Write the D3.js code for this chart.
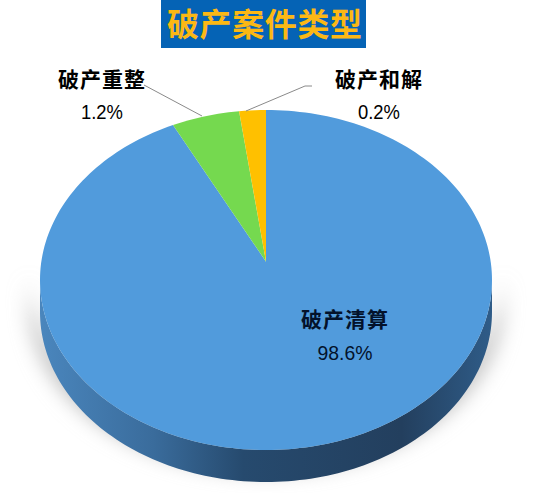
<!DOCTYPE html>
<html>
<head>
<meta charset="utf-8">
<script src="https://cdn.jsdelivr.net/npm/d3@7"></script>
<style>
    html, body { margin: 0; padding: 0; background: #fff; }
    text { font-family: "Liberation Sans", "Noto Sans CJK SC", sans-serif; }
</style>
</head>
<body>
<div id="chart"></div>
<script>
var titleText = "破产案件类型";
var categories = ["破产清算", "破产重整", "破产和解"];
var percentLabels = ["98.6%", "1.2%", "0.2%"];
// share of the circle each slice takes in the picture (the drawn slices are
// bigger than the printed percentages)
var drawnShares = [93.25, 4.85, 1.9];
var sliceColors = ["#519bdc", "#75d94f", "#ffc000"];

var width = 533, height = 493;
var svg = d3.select("#chart").append("svg")
    .attr("width", width)
    .attr("height", height)
    .style("display", "block");

var defs = svg.append("defs");

var sideGrad = defs.append("linearGradient").attr("id", "sideGrad");
sideGrad.append("stop").attr("offset", "0%").attr("stop-color", "#4a86bd");
sideGrad.append("stop").attr("offset", "25%").attr("stop-color", "#3a6c9c");
sideGrad.append("stop").attr("offset", "45%").attr("stop-color", "#264a6e");
sideGrad.append("stop").attr("offset", "80%").attr("stop-color", "#233f5e");
sideGrad.append("stop").attr("offset", "100%").attr("stop-color", "#2f5c88");

defs.append("filter").attr("id", "blur")
    .attr("x", "-20%").attr("y", "-20%").attr("width", "140%").attr("height", "140%")
    .append("feGaussianBlur").attr("stdDeviation", 9);

// unit circle -> tilted ellipse on the page
var px = d3.scaleLinear().domain([-1, 1]).range([40, 492]);
var py = d3.scaleLinear().domain([-1, 1]).range([110, 450]);
var depth = 32;
var apex = [px(0), py(-0.108)];

var pie = d3.pie().sort(null).value(function(d) { return d; });
var slices = pie(drawnShares);

function rim(a0, a1, dy) {
    var n = Math.max(2, Math.ceil(Math.abs(a1 - a0) * 40));
    return d3.range(n + 1).map(function(i) {
        var a = a0 + (a1 - a0) * i / n;
        return [px(Math.sin(a)), py(-Math.cos(a)) + (dy || 0)];
    });
}
var line = d3.line();

// shadow under the pie, only shows below the middle
svg.append("path")
    .attr("d", line(rim(Math.PI * 0.5, Math.PI * 1.5, 24).concat(rim(Math.PI * 1.5, Math.PI * 0.5, -10))) + "Z")
    .attr("transform", "translate(266,0) scale(1.05,1) translate(-266,0)")
    .attr("fill", "#c4c4c4")
    .attr("filter", "url(#blur)");

// side wall
var sideWall = rim(Math.PI * 0.5, Math.PI * 1.5, 0)
    .concat(rim(Math.PI * 1.5, Math.PI * 0.5, depth));
svg.append("path")
    .attr("d", line(sideWall) + "Z")
    .attr("fill", "url(#sideGrad)");

// top face
svg.selectAll("path.slice")
    .data(slices)
    .enter().append("path")
    .attr("class", "slice")
    .attr("fill", function(d, i) { return sliceColors[i]; })
    .attr("d", function(d) {
        return line([apex].concat(rim(d.startAngle, d.endAngle))) + "Z";
    });

// title
var titleX = d3.scalePoint().domain(d3.range(titleText.length)).range([183, 346]);
svg.append("rect")
    .attr("x", 161).attr("y", 0)
    .attr("width", 205).attr("height", 48)
    .attr("fill", "#0563b5");
svg.append("g").selectAll("text")
    .data(titleText.split(""))
    .enter().append("text")
    .attr("x", function(d, i) { return titleX(i); })
    .attr("y", 36)
    .attr("text-anchor", "middle")
    .attr("font-size", 32)
    .attr("font-weight", "bold")
    .attr("fill", "#fcb814")
    .text(function(d) { return d; });

// labels
var labelPos = [[345, 320, 353], [102, 80, 112], [379, 80, 112]];
var labels = svg.append("g").selectAll("g")
    .data(categories)
    .enter().append("g")
    .attr("text-anchor", "middle")
    .attr("fill", function(d, i) { return i === 0 ? "#03122b" : "#000"; });
labels.append("text")
    .attr("x", function(d, i) { return labelPos[i][0]; })
    .attr("y", function(d, i) { return labelPos[i][1] + 7; })
    .attr("font-size", 21)
    .attr("font-weight", "bold")
    .attr("letter-spacing", 1)
    .text(function(d) { return d; });
labels.append("text")
    .attr("x", function(d, i) { return labelPos[i][0]; })
    .attr("y", function(d, i) { return labelPos[i][2] + 7; })
    .attr("font-size", 20)
    .attr("textLength", function(d, i) { return i === 0 ? 55 : 42; })
    .attr("lengthAdjust", "spacingAndGlyphs")
    .text(function(d, i) { return percentLabels[i]; });

// leader lines
var leader = [[[144, 85], [202, 116]], [[312, 86], [305, 86], [246, 111]]];
svg.selectAll("path.leader")
    .data(leader)
    .enter().append("path")
    .attr("class", "leader")
    .attr("d", function(d) { return line(d); })
    .attr("fill", "none")
    .attr("stroke", "#8a8a8a")
    .attr("stroke-width", 1);
</script>
</body>
</html>
